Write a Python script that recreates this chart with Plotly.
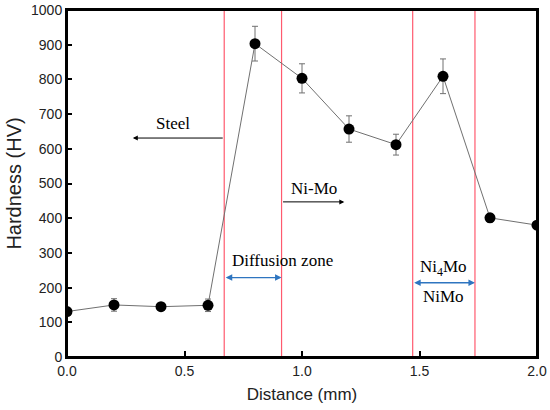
import plotly.graph_objects as go

distance = [0.0, 0.2, 0.4, 0.6, 0.8, 1.0, 1.2, 1.4, 1.6, 1.8, 2.0]
hardness = [131, 150, 145, 149, 903, 803, 657, 612, 809, 401, 380]
hardness_err = [10, 18, 8, 18, 50, 42, 38, 30, 50, 12, 10]
zone_bounds = [0.669, 0.913, 1.471, 1.736]
x_range = [0.0, 2.0]
y_range = [0, 1000]

fig = go.Figure()

for xb in zone_bounds:
  fig.add_shape(type="line", x0=xb, x1=xb, y0=0, y1=1000, xref="x", yref="y",
                line=dict(color="#ff5a6e", width=1.2), layer="below")

fig.add_trace(go.Scatter(
  x=distance, y=hardness, mode="lines+markers",
  line=dict(color="#707070", width=1),
  marker=dict(color="black", size=11),
  error_y=dict(type="data", array=hardness_err, color="#707070", thickness=1, width=3),
  showlegend=False,
))

# box around the plot area (top and right edges)
fig.add_shape(type="rect", x0=0, x1=1, y0=0, y1=1, xref="paper", yref="paper",
              line=dict(color="black", width=2), layer="above")

serif = dict(family="Liberation Serif", size=17, color="black")

def arrow(x_tip, x_tail, y, color, both=False, width=1):
  fig.add_annotation(x=x_tip, y=y, ax=x_tail, ay=y, xref="x", yref="y",
                     axref="x", ayref="y", text="", showarrow=True,
                     arrowside="end+start" if both else "end",
                     arrowhead=2, startarrowhead=2, arrowsize=1, startarrowsize=1,
                     arrowwidth=width, arrowcolor=color)

# Steel arrow (points left)
arrow(0.28, zone_bounds[0], 631, "black")
fig.add_annotation(x=0.45, y=672, text="Steel", showarrow=False, font=serif)

# Ni-Mo arrow (points right)
arrow(1.18, zone_bounds[1], 447, "black")
fig.add_annotation(x=1.05, y=485, text="Ni-Mo", showarrow=False, font=serif)

# Diffusion zone
arrow(zone_bounds[1], zone_bounds[0], 229, "#2e75c0", both=True, width=1.3)
fig.add_annotation(x=0.917, y=278, text="Diffusion zone", showarrow=False, font=serif)

# Ni4Mo / NiMo
arrow(zone_bounds[3], zone_bounds[2], 214, "#2e75c0", both=True, width=1.3)
fig.add_annotation(x=1.60, y=256, text="Ni<sub>4</sub>Mo", showarrow=False, font=serif)
fig.add_annotation(x=1.60, y=173, text="NiMo", showarrow=False, font=serif)

axis_font = dict(family="Liberation Sans", size=14, color="#222")
fig.update_xaxes(range=x_range, tickvals=[0, 0.5, 1.0, 1.5, 2.0],
                 ticktext=["0.0", "0.5", "1.0", "1.5", "2.0"],
                 ticks="inside", ticklen=6, tickwidth=2, tickcolor="black",
                 showline=True, linecolor="black", linewidth=2, mirror=True,
                 showgrid=False, zeroline=False, tickfont=axis_font,
                 ticklabeloverflow="allow",
                 title=dict(text="Distance (mm)", standoff=10,
                            font=dict(family="Liberation Sans", size=17, color="#222")))
fig.update_yaxes(range=y_range, dtick=100,
                 ticks="inside", ticklen=5, tickwidth=1.5, tickcolor="black",
                 showline=True, linecolor="black", linewidth=2, mirror=True,
                 showgrid=False, zeroline=False, tickfont=axis_font,
                 ticklabeloverflow="allow",
                 title=dict(text="Hardness (HV)", standoff=4,
                            font=dict(family="Liberation Sans", size=20, color="#222")))

fig.update_layout(width=550, height=410, plot_bgcolor="white", paper_bgcolor="white",
                  margin=dict(l=67, r=13, t=10, b=53, autoexpand=False))

# drop the default page margin so the figure sits at the window's corner
fig.write_html("out.html", config={"displayModeBar": False},
               post_script="document.body.style.margin='0';")
